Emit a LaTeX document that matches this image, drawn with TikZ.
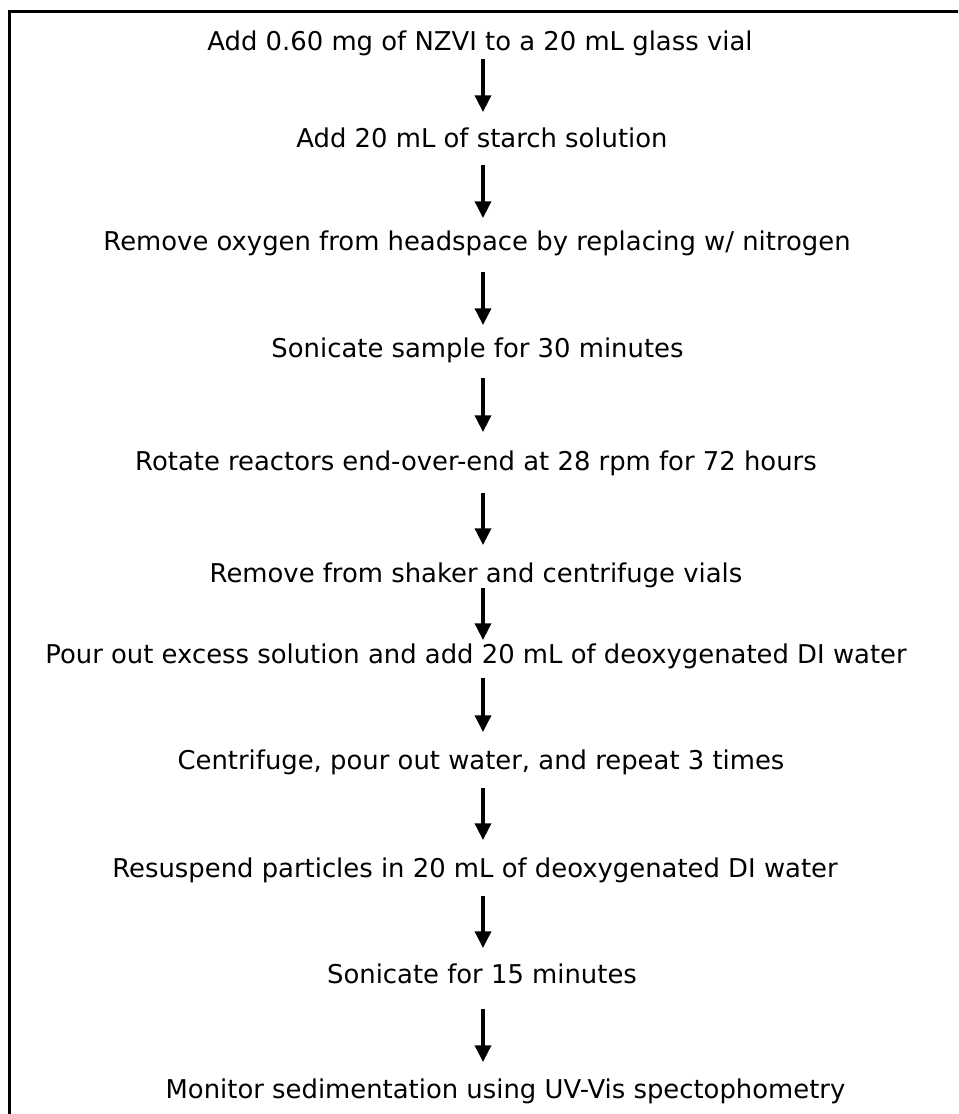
\documentclass[tikz,border=0pt]{standalone}
\usepackage{fontspec}
\setmainfont{DejaVu Sans}
\usetikzlibrary{arrows.meta,calc}
\tikzset{
  stepnode/.style={anchor=base, inner sep=0pt, font=\fontsize{19.4pt}{23pt}\selectfont},
  flowarrow/.style={line width=2.6pt, -{Triangle[width=12pt,length=12.5pt]}},
  frameline/.style={line width=2.25pt}
}
\begin{document}
\begin{tikzpicture}[x=0.75pt,y=-0.75pt]
\useasboundingbox (0,0) rectangle (958,1114);
\clip (0,0) rectangle (958,1114);
\draw[frameline] (9.5,1130) -- (9.5,11.5) -- (975,11.5);
\coordinate (ax) at (483,0);
\node[stepnode] (n1) at (480,50) {Add 0.60 mg of NZVI to a 20 mL glass vial};
\node[stepnode] (n2) at (482,147) {Add 20 mL of starch solution};
\node[stepnode] (n3) at (477,250) {Remove oxygen from headspace by replacing w/ nitrogen};
\node[stepnode] (n4) at (477.5,357) {Sonicate sample for 30 minutes};
\node[stepnode] (n5) at (476,470) {Rotate reactors end-over-end at 28 rpm for 72 hours};
\node[stepnode] (n6) at (476,582) {Remove from shaker and centrifuge vials};
\node[stepnode] (n7) at (476,663) {Pour out excess solution and add 20 mL of deoxygenated DI water};
\node[stepnode] (n8) at (481,769) {Centrifuge, pour out water, and repeat 3 times};
\node[stepnode] (n9) at (475,877) {Resuspend particles in 20 mL of deoxygenated DI water};
\node[stepnode] (n10) at (482,983) {Sonicate for 15 minutes};
\node[stepnode] (n11) at (505.5,1098) {Monitor sedimentation using UV-Vis spectophometry};
\draw[flowarrow] ($(n1.base -| ax)+(0,9)$) -- ($(n2.base -| ax)+(0,-35)$);
\draw[flowarrow] ($(n2.base -| ax)+(0,18)$) -- ($(n3.base -| ax)+(0,-32)$);
\draw[flowarrow] ($(n3.base -| ax)+(0,22)$) -- ($(n4.base -| ax)+(0,-32)$);
\draw[flowarrow] ($(n4.base -| ax)+(0,21)$) -- ($(n5.base -| ax)+(0,-38)$);
\draw[flowarrow] ($(n5.base -| ax)+(0,23)$) -- ($(n6.base -| ax)+(0,-37)$);
\draw[flowarrow] ($(n6.base -| ax)+(0,6)$) -- ($(n7.base -| ax)+(0,-23)$);
\draw[flowarrow] ($(n7.base -| ax)+(0,15)$) -- ($(n8.base -| ax)+(0,-37)$);
\draw[flowarrow] ($(n8.base -| ax)+(0,19)$) -- ($(n9.base -| ax)+(0,-37)$);
\draw[flowarrow] ($(n9.base -| ax)+(0,19)$) -- ($(n10.base -| ax)+(0,-35)$);
\draw[flowarrow] ($(n10.base -| ax)+(0,26)$) -- ($(n11.base -| ax)+(0,-36)$);
\end{tikzpicture}
\end{document}
